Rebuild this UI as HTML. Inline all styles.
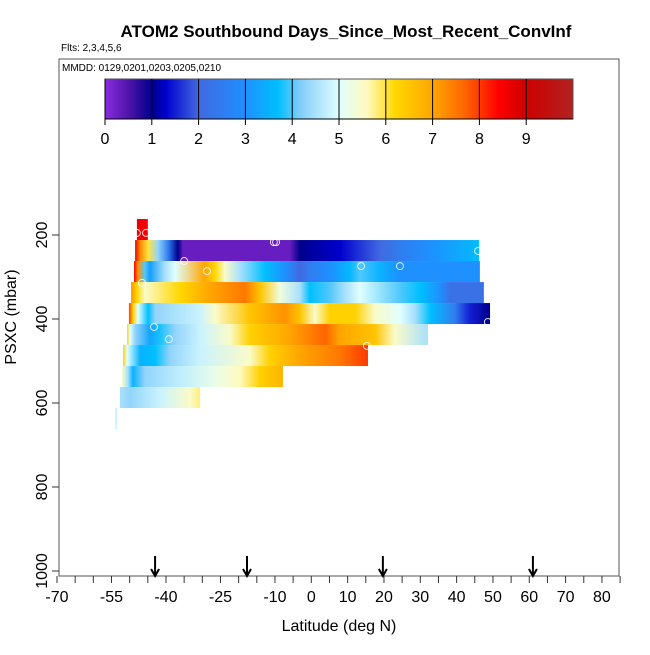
<!DOCTYPE html>
<html><head><meta charset="utf-8"><style>
body{margin:0;background:#fff}
svg text{font-family:"Liberation Sans",sans-serif}
</style></head><body>
<svg id="chart" width="650" height="650" viewBox="0 0 650 650" xmlns="http://www.w3.org/2000/svg">
<rect width="650" height="650" fill="#fff"/>
<text x="346" y="37" font-size="17" font-weight="bold" text-anchor="middle">ATOM2 Southbound Days_Since_Most_Recent_ConvInf</text>
<text x="61" y="51" font-size="10">Flts: 2,3,4,5,6</text>
<rect x="59" y="59" width="560" height="517" fill="none" stroke="#555" stroke-width="1"/>
<text x="62" y="71" font-size="10">MMDD: 0129,0201,0203,0205,0210</text>
<defs id="defs"></defs>
<g id="colorbar"></g>
<g id="rows"></g>
<g id="circles"></g>
<g id="arrows"></g>
<g id="axes"></g>
<text x="339" y="631" font-size="16" text-anchor="middle">Latitude (deg N)</text>
<text transform="translate(16,317) rotate(-90)" font-size="16" text-anchor="middle">PSXC (mbar)</text>
</svg>
<script>
const xTickLabels = [-70,-55,-40,-25,-10,0,10,20,30,40,50,60,70,80];
const xMinorTicks = [-70,-65,-60,-55,-50,-45,-40,-35,-30,-25,-20,-15,-10,-5,0,5,10,15,20,25,30,35,40,45,50,55,60,65,70,75,80,85];
const yTickLabels = [200,400,600,800,1000];
const cbarTicks = [0,1,2,3,4,5,6,7,8,9];
const rowTops = [162,212,262,312,362,412,462,512,562,612];
const rowStops = [
 [[-48.0,8.6],[-45.0,8.5]],
 [[-48.5,8.6],[-47.1,7.3],[-44.9,6.0],[-42.2,4.3],[-39.4,2.5],[-36.7,1.0],[-35.3,0.3],[-5.9,0.3],[-3.1,1.0],[7.9,1.3],[18.9,2.0],[24.4,2.5],[32.7,3.0],[43.7,3.5],[46.2,3.7]],
 [[-48.8,8.5],[-47.7,7.2],[-45.8,4.0],[-44.4,3.2],[-40.3,4.5],[-37.5,5.0],[-29.3,7.0],[-26.5,6.2],[-23.8,5.5],[-19.6,4.5],[-12.7,3.7],[-7.2,3.0],[-3.1,2.0],[-0.4,2.5],[5.1,3.0],[10.7,3.6],[13.4,4.0],[18.9,3.5],[24.4,3.0],[46.4,3.0]],
 [[-49.6,7.2],[-48.0,6.2],[-45.8,5.5],[-36.1,6.2],[-27.9,7.0],[-18.3,7.5],[-14.1,6.5],[-8.6,5.3],[-3.1,4.5],[-0.4,3.7],[5.1,4.0],[9.3,4.5],[13.4,5.0],[24.4,4.0],[29.9,3.7],[35.4,3.0],[38.2,2.2],[47.5,2.2]],
 [[-50.2,8.0],[-49.1,6.3],[-47.7,5.0],[-44.9,3.7],[-43.0,4.3],[-30.6,4.8],[-26.5,5.5],[-16.9,6.5],[-7.2,7.2],[-3.1,6.5],[1.0,5.5],[5.1,6.3],[12.0,6.3],[17.5,5.5],[24.4,5.0],[28.5,4.5],[32.7,3.7],[39.5,2.5],[43.7,1.5],[49.2,1.0]],
 [[-50.7,6.2],[-49.9,5.0],[-48.5,4.3],[-44.4,3.3],[-41.6,3.8],[-37.5,4.3],[-30.6,4.8],[-22.4,5.5],[-16.9,6.3],[-5.9,7.0],[3.8,7.7],[7.9,7.0],[17.5,6.5],[23.0,5.5],[32.1,4.5]],
 [[-51.8,6.3],[-50.7,5.0],[-47.1,3.5],[-43.0,3.7],[-38.9,4.3],[-30.6,4.8],[-16.9,5.5],[-11.4,6.3],[-3.1,7.0],[7.9,7.5],[15.6,8.0]],
 [[-52.1,5.5],[-50.5,4.5],[-49.1,3.5],[-45.8,4.3],[-36.1,4.7],[-26.5,5.2],[-19.6,5.6],[-14.1,6.3],[-7.8,6.8]],
 [[-52.7,4.5],[-49.9,4.3],[-41.6,4.8],[-33.4,5.5],[-30.6,5.8]],
 [[-54.0,4.8],[-53.5,4.8]]
];
const circleLat = [-48.0,-45.5,-10.3,-9.7,-35.0,45.9,-28.7,13.7,24.4,-46.6,-43.3,-39.2,48.6,15.3];
const circlePres = [195,195,217,217,262,238,286,274,274,314,419,448,407,464];
const arrowLat = [-43.0,-17.7,19.7,61.0];

const NS="http://www.w3.org/2000/svg";
const xS = lat => 311.3 + lat*3.633;
const yS = p => 235 + (p-200)*0.42;
const cS = v => 105 + v*46.8;
const cmap = [[0,[138,43,226]],[0.5,[80,20,170]],[1,[0,0,139]],[1.3,[0,0,205]],[2,[65,105,225]],[3,[30,144,255]],[3.7,[0,191,255]],[4.2,[135,206,250]],[5,[224,255,255]],[5.6,[255,250,190]],[6.2,[255,215,0]],[7,[255,165,0]],[7.7,[255,100,0]],[8.4,[255,0,0]],[9,[205,0,0]],[10,[178,34,34]]];
function col(v){
 for(let i=0;i<cmap.length-1;i++){const a=cmap[i],b=cmap[i+1];
  if(v<=b[0]){const t=Math.max(0,(v-a[0])/(b[0]-a[0]));return 'rgb('+a[1].map((c,j)=>Math.round(c+(b[1][j]-c)*t)).join(',')+')';}}
 return 'rgb(178,34,34)';
}
function mk(tag,attrs,parent){const e=document.createElementNS(NS,tag);for(const k in attrs)e.setAttribute(k,attrs[k]);parent.appendChild(e);return e;}
const defs=document.getElementById('defs');
// colorbar
const cb=document.getElementById('colorbar');
const cg=mk('linearGradient',{id:'cbg',x1:'0',x2:'1',y1:'0',y2:'0'},defs);
for(const s of cmap){mk('stop',{offset:s[0]/10,'stop-color':col(s[0])},cg);}
const cbr=mk('rect',{x:cS(0),y:79,width:cS(10)-cS(0),height:40,fill:'url(#cbg)',stroke:'#555'},cb);


mk('line',{x1:cS(0),x2:cS(10),y1:119,y2:119,stroke:'#000'},cb);
for(const t of cbarTicks){
 const l=mk('line',{x1:cS(t),x2:cS(t),y1:79,y2:125,stroke:'#000','stroke-width':1},cb);
 
 
 const tx=mk('text',{x:cS(t),y:144,'font-size':16,'text-anchor':'middle'},cb);tx.textContent=t;
 
 
}
// rows
const rg=document.getElementById('rows');
rowStops.forEach((stops,i)=>{
 const x0=xS(stops[0][0]), x1=xS(stops[stops.length-1][0]);
 const w=Math.max(x1-x0,2);
 const g=mk('linearGradient',{id:'rg'+i,x1:'0',x2:'1',y1:'0',y2:'0'},defs);
 for(const s of stops){mk('stop',{offset:(xS(s[0])-x0)/w,'stop-color':col(s[1])},g);}
 const r=mk('rect',{x:x0,y:yS(rowTops[i]),width:w,height:yS(rowTops[i]+50)-yS(rowTops[i]),fill:'url(#rg'+i+')'},rg);
 
 
});
// circles
const cg2=document.getElementById('circles');
circleLat.forEach((la,i)=>{
 const c=mk('circle',{cx:xS(la),cy:yS(circlePres[i]),r:3.5,fill:'none',stroke:'#fff','stroke-width':1,opacity:0.85},cg2);
 
 
});
// arrows
const ag=document.getElementById('arrows');
arrowLat.forEach(la=>{
 const x=xS(la);
 const p=mk('path',{d:`M${x} 556 L${x} 576 M${x-4} 569 L${x} 576 L${x+4} 569`,stroke:'#000','stroke-width':2,fill:'none'},ag);
 
 
});
// axes
const ax=document.getElementById('axes');
for(const t of xMinorTicks){const l=mk('line',{x1:xS(t),x2:xS(t),y1:576,y2:583,stroke:'#333'},ax);
 
 }
for(const t of xTickLabels){const tx=mk('text',{x:xS(t),y:602,'font-size':16,'text-anchor':'middle'},ax);tx.textContent=t;
 
 }
for(const t of yTickLabels){const y=yS(t);
 const l=mk('line',{x1:52,x2:59,y1:y,y2:y,stroke:'#333'},ax);
 
 
 const tx=mk('text',{transform:`translate(47,${y}) rotate(-90)`,'font-size':16,'text-anchor':'middle'},ax);tx.textContent=t;
 
 }
</script>
</body></html>
